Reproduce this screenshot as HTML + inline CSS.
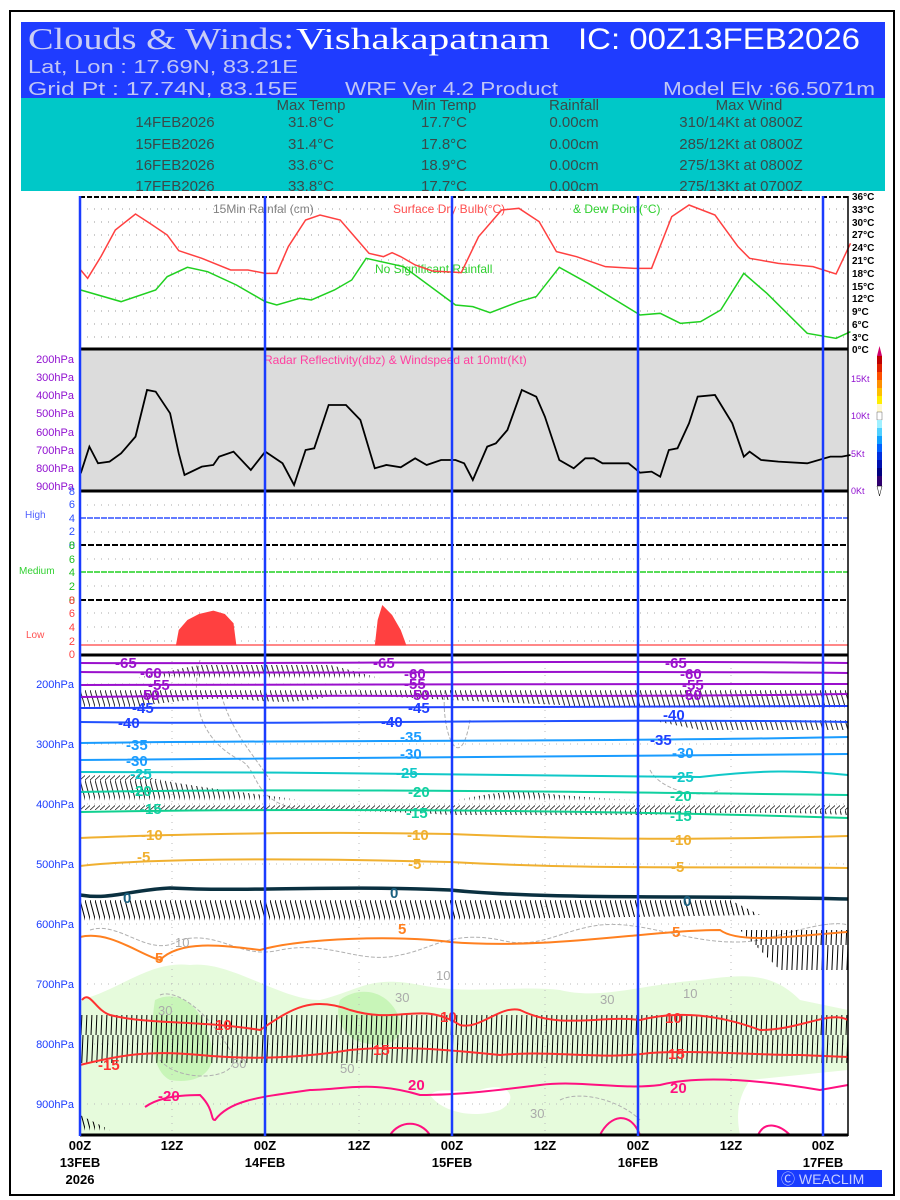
<!DOCTYPE html>
<html><head><meta charset="utf-8"><style>
html,body{margin:0;padding:0;background:#fff;}
svg{display:block;}
text{font-family:"Liberation Sans",sans-serif;}
</style></head><body>
<svg width="900" height="1200" viewBox="0 0 900 1200" xmlns="http://www.w3.org/2000/svg">
<defs>
<pattern id="pA" width="5" height="30" patternUnits="userSpaceOnUse"><line x1="0" y1="0" x2="9" y2="30" stroke="#000" stroke-width="1"/></pattern>
<pattern id="pB" width="5" height="30" patternUnits="userSpaceOnUse"><line x1="0" y1="0" x2="8" y2="30" stroke="#000" stroke-width="1"/><line x1="0" y1="30" x2="9" y2="22" stroke="#000" stroke-width="0.8"/></pattern>
<pattern id="pC" width="5" height="30" patternUnits="userSpaceOnUse"><line x1="0" y1="0" x2="8" y2="30" stroke="#000" stroke-width="1"/></pattern>
<pattern id="pD" width="5" height="45" patternUnits="userSpaceOnUse"><line x1="3" y1="0" x2="1" y2="45" stroke="#000" stroke-width="1"/></pattern>
</defs>
<rect x="0" y="0" width="900" height="1200" fill="#fff"/>
<rect x="10" y="11" width="884" height="1184" fill="none" stroke="#000" stroke-width="2"/>
<!-- header -->
<rect x="21" y="22" width="864" height="76" fill="#1f3cff"/>
<text x="28" y="49" font-size="31" fill="#c9cdf5" textLength="266" lengthAdjust="spacingAndGlyphs" style="font-family:'Liberation Serif',serif">Clouds &amp; Winds:</text>
<text x="296" y="49" font-size="31" fill="#fff" textLength="254" lengthAdjust="spacingAndGlyphs" style="font-family:'Liberation Serif',serif">Vishakapatnam</text>
<text x="578" y="49" font-size="30" fill="#fff" textLength="282" lengthAdjust="spacingAndGlyphs">IC: 00Z13FEB2026</text>
<text x="28" y="73" font-size="18" fill="#c0c6f5" textLength="270" lengthAdjust="spacingAndGlyphs">Lat, Lon : 17.69N, 83.21E</text>
<text x="28" y="95" font-size="18" fill="#c0c6f5" textLength="270" lengthAdjust="spacingAndGlyphs">Grid Pt  : 17.74N, 83.15E</text>
<text x="345" y="95" font-size="18" fill="#c0c6f5" textLength="213" lengthAdjust="spacingAndGlyphs">WRF Ver 4.2 Product</text>
<text x="663" y="95" font-size="18" fill="#c0c6f5" textLength="212" lengthAdjust="spacingAndGlyphs">Model Elv :66.5071m</text>
<rect x="21" y="98" width="864" height="93" fill="#00c8c8"/>
<g font-size="15" fill="#3a4a4a" text-anchor="middle">
<text x="311" y="110">Max Temp</text><text x="444" y="110">Min Temp</text><text x="574" y="110">Rainfall</text><text x="749" y="110">Max Wind</text>
<text x="175" y="127">14FEB2026</text><text x="311" y="127">31.8°C</text><text x="444" y="127">17.7°C</text><text x="574" y="127">0.00cm</text><text x="741" y="127">310/14Kt at 0800Z</text>
<text x="175" y="149">15FEB2026</text><text x="311" y="149">31.4°C</text><text x="444" y="149">17.8°C</text><text x="574" y="149">0.00cm</text><text x="741" y="149">285/12Kt at 0800Z</text>
<text x="175" y="170">16FEB2026</text><text x="311" y="170">33.6°C</text><text x="444" y="170">18.9°C</text><text x="574" y="170">0.00cm</text><text x="741" y="170">275/13Kt at 0800Z</text>
<text x="175" y="191">17FEB2026</text><text x="311" y="191">33.8°C</text><text x="444" y="191">17.7°C</text><text x="574" y="191">0.00cm</text><text x="741" y="191">275/13Kt at 0700Z</text>
</g>
<rect x="21" y="191" width="864" height="3" fill="#fff"/>

<!-- temp panel -->
<line x1="80" y1="197" x2="848" y2="197" stroke="#000" stroke-width="2" stroke-dasharray="5,2"/>
<g stroke="#999" stroke-width="1" stroke-dasharray="1,6">
<line x1="80" y1="209" x2="848" y2="209"/><line x1="80" y1="222" x2="848" y2="222"/><line x1="80" y1="235" x2="848" y2="235"/><line x1="80" y1="247" x2="848" y2="247"/><line x1="80" y1="260" x2="848" y2="260"/><line x1="80" y1="273" x2="848" y2="273"/><line x1="80" y1="286" x2="848" y2="286"/><line x1="80" y1="298" x2="848" y2="298"/><line x1="80" y1="311" x2="848" y2="311"/><line x1="80" y1="324" x2="848" y2="324"/><line x1="80" y1="337" x2="848" y2="337"/>
</g>
<g font-size="10" fill="#000" font-weight="bold">
<text x="852" y="200">36°C</text><text x="852" y="213">33°C</text><text x="852" y="226">30°C</text><text x="852" y="238">27°C</text><text x="852" y="251">24°C</text><text x="852" y="264">21°C</text><text x="852" y="277">18°C</text><text x="852" y="290">15°C</text><text x="852" y="302">12°C</text><text x="852" y="315">9°C</text><text x="852" y="328">6°C</text><text x="852" y="341">3°C</text><text x="852" y="353">0°C</text>
</g>
<text x="213" y="213" font-size="12" fill="#808080">15Min Rainfal (cm)</text>
<text x="393" y="213" font-size="12" fill="#ff5050">Surface Dry Bulb(°C)</text>
<text x="573" y="213" font-size="12" fill="#30d030">&amp; Dew Point(°C)</text>
<text x="375" y="273" font-size="12" fill="#30d030">No Significant Rainfall</text>
<g transform="translate(0,190) scale(0.5766,0.3333)" fill="none">
<polyline vector-effect="non-scaling-stroke" stroke-width="1.5" stroke="#ff4040" points="140,240 152,265 175,200 200,120 235,72 260,100 290,135 310,182 350,205 400,240 430,240 460,250 480,250 500,170 530,90 555,75 590,90 620,150 640,190 665,200 680,188 695,200 720,225 750,243 800,248 830,140 870,60 900,55 935,95 965,185 1000,200 1050,230 1100,235 1130,235 1165,80 1195,45 1240,75 1280,170 1300,205 1350,220 1410,230 1450,252 1475,160"/>
<polyline vector-effect="non-scaling-stroke" stroke-width="1.5" stroke="#20d020" points="140,300 210,335 270,300 290,260 325,232 360,245 410,285 460,335 480,345 520,325 540,330 580,300 610,270 635,205 700,230 790,345 820,350 850,368 900,335 930,320 970,232 1020,280 1110,375 1145,370 1180,400 1215,395 1250,360 1290,250 1330,310 1400,430 1450,445 1475,425"/>
</g>

<!-- radar panel -->
<rect x="80" y="349" width="768" height="142" fill="#dcdcdc"/>
<line x1="80" y1="349" x2="848" y2="349" stroke="#000" stroke-width="3"/>
<line x1="80" y1="491" x2="848" y2="491" stroke="#000" stroke-width="3"/>
<text x="264" y="364" font-size="12" fill="#ff40a0">Radar Reflectivity(dbz) &amp; Windspeed at 10mtr(Kt)</text>
<g font-size="11" fill="#9010d0" text-anchor="end">
<text x="74" y="363">200hPa</text><text x="74" y="381">300hPa</text><text x="74" y="399">400hPa</text><text x="74" y="417">500hPa</text><text x="74" y="436">600hPa</text><text x="74" y="454">700hPa</text><text x="74" y="472">800hPa</text><text x="74" y="490">900hPa</text>
</g>
<g font-size="9" fill="#9010d0">
<text x="851" y="382">15Kt</text><text x="851" y="419">10Kt</text><text x="851" y="457">5Kt</text><text x="851" y="494">0Kt</text>
</g>
<g transform="translate(0,190) scale(0.5766,0.3333)" fill="none">
<polyline vector-effect="non-scaling-stroke" stroke="#000" stroke-width="1.8" points="140,850 155,770 170,820 190,815 210,790 235,740 255,600 270,605 295,670 310,790 320,855 350,830 370,825 380,800 405,785 435,840 460,785 490,820 510,885 530,780 545,775 570,645 600,645 625,690 650,835 670,825 695,832 720,805 740,825 765,810 790,810 805,820 820,870 845,770 860,760 880,720 905,600 930,620 945,680 970,810 995,835 1015,805 1030,805 1045,820 1090,820 1110,848 1130,845 1145,860 1160,780 1175,775 1195,700 1210,620 1240,615 1270,700 1290,800 1300,785 1320,810 1350,815 1400,820 1440,800 1460,800 1475,795"/>
</g>
<!-- colorbar -->
<g>
<polygon points="877,356 879.5,346 882,356" fill="#d0006a"/>
<rect x="877" y="356" width="5" height="8" fill="#c00000"/>
<rect x="877" y="364" width="5" height="8" fill="#e02000"/>
<rect x="877" y="372" width="5" height="8" fill="#ff5000"/>
<rect x="877" y="380" width="5" height="8" fill="#ff9000"/>
<rect x="877" y="388" width="5" height="8" fill="#ffc000"/>
<rect x="877" y="396" width="5" height="8" fill="#ffee00"/>
<rect x="877" y="404" width="5" height="8" fill="#fff8d0"/>
<rect x="877" y="412" width="5" height="8" fill="#ffffff" stroke="#000" stroke-width="0.3"/>
<rect x="877" y="420" width="5" height="8" fill="#a0f0ff"/>
<rect x="877" y="428" width="5" height="8" fill="#50d0ff"/>
<rect x="877" y="436" width="5" height="8" fill="#10a0ff"/>
<rect x="877" y="444" width="5" height="8" fill="#0060ff"/>
<rect x="877" y="452" width="5" height="8" fill="#0030e0"/>
<rect x="877" y="460" width="5" height="8" fill="#0010b0"/>
<rect x="877" y="468" width="5" height="8" fill="#000080"/>
<rect x="877" y="476" width="5" height="10" fill="#300070"/>
<polygon points="877,486 879.5,496 882,486" fill="#fff" stroke="#000" stroke-width="0.5"/>
</g>

<!-- cloud panels -->
<g stroke="#aaa" stroke-width="1" stroke-dasharray="1,6">
<line x1="80" y1="505" x2="848" y2="505"/><line x1="80" y1="532" x2="848" y2="532"/>
<line x1="80" y1="559" x2="848" y2="559"/><line x1="80" y1="586" x2="848" y2="586"/>
<line x1="80" y1="613" x2="848" y2="613"/><line x1="80" y1="627" x2="848" y2="627"/><line x1="80" y1="641" x2="848" y2="641"/>
</g>
<line x1="80" y1="518" x2="848" y2="518" stroke="#3050ff" stroke-width="1.5" stroke-dasharray="6,1"/>
<line x1="80" y1="545" x2="848" y2="545" stroke="#000" stroke-width="2" stroke-dasharray="6,2"/>
<line x1="80" y1="572" x2="848" y2="572" stroke="#20d020" stroke-width="1.5" stroke-dasharray="6,1"/>
<line x1="80" y1="600" x2="848" y2="600" stroke="#000" stroke-width="2" stroke-dasharray="6,2"/>
<line x1="80" y1="645" x2="848" y2="645" stroke="#ff4040" stroke-width="1.2"/>
<g transform="translate(0,190) scale(0.5766,0.3333)" fill="#ff4040">
<path d="M305,1367 L310,1320 L325,1290 L345,1272 L370,1262 L390,1272 L405,1300 L410,1367 Z"/>
<path d="M650,1367 L655,1290 L663,1245 L680,1275 L695,1320 L705,1367 Z"/>
</g>
<g font-size="11" text-anchor="end">
<text x="75" y="495" fill="#3050ff">8</text><text x="75" y="508" fill="#3050ff">6</text><text x="75" y="522" fill="#3050ff">4</text><text x="75" y="535" fill="#3050ff">2</text><text x="75" y="549" fill="#3050ff">0</text>
<text x="75" y="549" fill="#20c020">8</text><text x="75" y="563" fill="#20c020">6</text><text x="75" y="576" fill="#20c020">4</text><text x="75" y="590" fill="#20c020">2</text><text x="75" y="604" fill="#20c020">0</text>
<text x="75" y="604" fill="#ff4040">8</text><text x="75" y="617" fill="#ff4040">6</text><text x="75" y="631" fill="#ff4040">4</text><text x="75" y="645" fill="#ff4040">2</text><text x="75" y="658" fill="#ff4040">0</text>
</g>
<text x="25" y="518" font-size="10" fill="#5060ff">High</text>
<text x="19" y="574" font-size="10" fill="#30d030">Medium</text>
<text x="26" y="638" font-size="10" fill="#ff5050">Low</text>

<!-- bottom panel -->
<path d="M80,1135 L80,1000 C120,990 150,960 190,965 C230,960 280,1000 320,1000 C360,990 370,975 420,985 C470,995 520,985 560,990 C600,1000 640,985 700,980 C740,975 770,970 800,1000 L848,1010 L848,1135 Z" fill="#e6fbdc"/>
<path d="M155,1000 C175,990 200,1000 210,1040 C220,1070 200,1085 170,1080 C150,1070 150,1030 155,1000Z" fill="#c8f5b8"/>
<path d="M340,1000 C360,985 390,990 400,1020 C405,1045 380,1050 355,1040 C340,1030 335,1015 340,1000Z" fill="#c8f5b8"/>
<path d="M430,1095 C440,1110 470,1120 500,1110 C520,1100 510,1080 480,1090 C460,1095 440,1085 430,1095Z" fill="#fff"/>
<path d="M750,1080 L848,1070 L848,1135 L740,1135 C735,1110 740,1095 750,1080Z" fill="#fff"/>
<g fill="none" stroke="#b0b0b0" stroke-width="1" stroke-dasharray="4,2">
<path d="M200,660 C190,700 200,740 240,760 C260,770 250,800 300,810"/>
<path d="M220,690 C230,730 250,750 270,780"/>
<path d="M445,690 C440,730 460,780 470,720"/>
<path d="M650,770 C660,790 700,800 720,790"/>
<path d="M90,930 C120,920 150,960 180,940 C220,930 240,960 280,950 C330,940 360,965 400,955 C430,950 450,930 500,940 C540,950 560,930 600,925 C650,920 700,950 760,940 C800,930 830,920 848,925"/>
<path d="M160,995 C170,990 200,1000 230,1050 C250,1080 180,1085 160,1060"/>
<path d="M560,1100 C580,1090 620,1100 640,1120"/>
</g>
<g stroke="#bbb" stroke-width="1" stroke-dasharray="1,6">
<line x1="80" y1="684" x2="848" y2="684"/><line x1="80" y1="744" x2="848" y2="744"/><line x1="80" y1="804" x2="848" y2="804"/><line x1="80" y1="864" x2="848" y2="864"/><line x1="80" y1="924" x2="848" y2="924"/><line x1="80" y1="984" x2="848" y2="984"/><line x1="80" y1="1044" x2="848" y2="1044"/><line x1="80" y1="1104" x2="848" y2="1104"/>
<line x1="172" y1="654" x2="172" y2="1135"/><line x1="359" y1="654" x2="359" y2="1135"/><line x1="545" y1="654" x2="545" y2="1135"/><line x1="731" y1="654" x2="731" y2="1135"/>
</g>
<!-- barbs -->
<path d="M80,690 C130,680 170,670 200,665 L330,665 C360,672 380,680 420,685 L848,690 L848,730 L700,730 C650,720 600,710 560,705 L450,700 L340,694 C320,698 300,705 250,700 C200,695 150,705 80,715 Z" fill="url(#pA)" opacity="0.85"/>
<path d="M80,772 L130,772 C170,785 230,790 300,800 L450,802 C500,790 520,790 560,795 C620,800 700,805 848,800 L848,815 C780,812 720,812 650,815 L450,815 C380,810 300,810 80,810 Z" fill="url(#pB)" opacity="0.85"/>
<path d="M80,893 L720,895 L760,915 L80,925 Z" fill="url(#pC)"/>
<path d="M740,930 L848,930 L848,970 L780,970 Z" fill="url(#pD)"/>
<rect x="80" y="1015" width="768" height="48" fill="url(#pD)"/>
<path d="M80,1115 L120,1135 L80,1135Z" fill="url(#pC)"/>
<!-- temperature contours -->
<g fill="none" stroke-width="2">
<path d="M80,663 C300,664 600,660 848,663" stroke="#9a10cc"/>
<path d="M80,672 C300,674 600,670 848,673" stroke="#9a10cc"/>
<path d="M80,685 C300,686 600,683 848,684" stroke="#9a10cc"/>
<path d="M80,697 C300,694 600,698 848,694" stroke="#9a10cc"/>
<path d="M80,708 C300,706 600,708 848,706" stroke="#2040ff"/>
<path d="M80,722 C300,725 600,718 848,722" stroke="#2050ff"/>
<path d="M80,743 C300,740 600,742 848,737" stroke="#1a9cff"/>
<path d="M80,760 C300,757 600,757 848,754" stroke="#1a9cff"/>
<path d="M80,772 C300,772 600,775 700,777 C760,770 800,770 848,775" stroke="#10c8c8"/>
<path d="M80,792 C300,788 600,792 848,795" stroke="#10d0a0"/>
<path d="M80,812 C300,808 600,810 848,818" stroke="#10d090"/>
<path d="M80,838 C150,835 300,831 450,834 C600,840 700,840 848,836" stroke="#f0b030"/>
<path d="M80,866 C150,858 300,858 450,862 C600,870 700,866 848,868" stroke="#f0b030"/>
<path d="M80,895 C110,900 130,890 170,888 C250,892 330,885 450,890 C550,900 700,895 848,899" stroke="#0a3040" stroke-width="3.5"/>
<path d="M80,937 C110,930 140,955 160,960 C180,940 220,945 260,950 C300,938 400,935 450,942 C550,950 650,930 720,930 C740,945 800,935 848,932" stroke="#ff8020"/>
<path d="M82,1000 C90,990 95,1010 110,1015 C150,1025 200,1020 260,1030 C290,1010 310,995 350,1010 C400,1025 420,1000 460,1025 C480,1030 500,1005 520,1010 C560,1030 600,1015 640,1020 C680,1010 720,1015 760,1030 C800,1030 830,1010 848,1020" stroke="#ff3030"/>
<path d="M80,1065 C120,1055 150,1050 200,1055 C250,1060 300,1058 350,1050 C400,1045 450,1050 500,1055 C550,1050 600,1060 650,1053 C700,1050 750,1055 800,1055 L848,1057" stroke="#ff3030"/>
<path d="M145,1107 C155,1100 170,1095 200,1095 C215,1110 210,1120 215,1120 C230,1100 260,1097 310,1090 C340,1090 370,1080 420,1095 C460,1095 500,1090 540,1085 C580,1080 620,1090 660,1085 C700,1075 760,1080 820,1090 L848,1085" stroke="#ff1080"/>
<path d="M390,1135 C400,1120 420,1120 430,1135" stroke="#ff1080"/>
<path d="M600,1135 C610,1115 630,1110 640,1135" stroke="#ff1080"/>
<path d="M758,1135 C765,1120 780,1125 790,1135" stroke="#ff1080"/>
</g>
<g font-size="15" font-weight="bold">
<g fill="#9a10cc"><text x="115" y="668">-65</text><text x="140" y="678">-60</text><text x="148" y="690">-55</text><text x="138" y="700">-50</text>
<text x="373" y="668">-65</text><text x="404" y="679">-60</text><text x="404" y="689">-55</text><text x="408" y="700">-50</text>
<text x="665" y="668">-65</text><text x="680" y="679">-60</text><text x="682" y="690">-55</text><text x="680" y="700">-50</text></g>
<g fill="#2040ff"><text x="132" y="713">-45</text><text x="118" y="728">-40</text><text x="381" y="727">-40</text><text x="408" y="713">-45</text><text x="650" y="745">-35</text><text x="663" y="720">-40</text></g>
<g fill="#1a9cff"><text x="126" y="750">-35</text><text x="126" y="766">-30</text><text x="400" y="742">-35</text><text x="400" y="759">-30</text><text x="672" y="758">-30</text></g>
<g fill="#10c8c8"><text x="130" y="779">-25</text><text x="396" y="778">-25</text><text x="672" y="782">-25</text></g>
<g fill="#10d0a0"><text x="130" y="796">-20</text><text x="140" y="814">-15</text><text x="408" y="797">-20</text><text x="406" y="818">-15</text><text x="670" y="801">-20</text><text x="670" y="821">-15</text></g>
<g fill="#f0b030"><text x="141" y="840">-10</text><text x="137" y="862">-5</text><text x="407" y="840">-10</text><text x="408" y="869">-5</text><text x="670" y="845">-10</text><text x="671" y="872">-5</text></g>
<g fill="#1a6080"><text x="123" y="903">0</text><text x="390" y="898">0</text><text x="683" y="906">0</text></g>
<g fill="#ff8020"><text x="155" y="963">5</text><text x="398" y="934">5</text><text x="672" y="937">5</text></g>
<g fill="#ff3030"><text x="215" y="1030">10</text><text x="440" y="1022">10</text><text x="665" y="1023">10</text><text x="98" y="1070">-15</text><text x="373" y="1055">15</text><text x="668" y="1059">15</text></g>
<g fill="#ff1080"><text x="158" y="1101">-20</text><text x="408" y="1090">20</text><text x="670" y="1093">20</text></g>
</g>
<g font-size="13" fill="#aaa"><text x="175" y="947">10</text><text x="158" y="1015">30</text><text x="232" y="1068">50</text><text x="340" y="1073">50</text><text x="395" y="1002">30</text><text x="436" y="980">10</text><text x="600" y="1004">30</text><text x="683" y="998">10</text><text x="530" y="1118">30</text></g>
<g font-size="11" fill="#1a3cff" text-anchor="end">
<text x="74" y="688">200hPa</text><text x="74" y="748">300hPa</text><text x="74" y="808">400hPa</text><text x="74" y="868">500hPa</text><text x="74" y="928">600hPa</text><text x="74" y="988">700hPa</text><text x="74" y="1048">800hPa</text><text x="74" y="1108">900hPa</text>
</g>
<line x1="80" y1="655" x2="848" y2="655" stroke="#000" stroke-width="3"/>
<line x1="80" y1="1135" x2="848" y2="1135" stroke="#000" stroke-width="3"/>
<line x1="848" y1="196" x2="848" y2="1136" stroke="#000" stroke-width="1.5"/>
<!-- blue day lines -->
<g stroke="#1a3cff" stroke-width="2.5">
<line x1="80" y1="196" x2="80" y2="1136"/><line x1="265" y1="196" x2="265" y2="1136"/><line x1="452" y1="196" x2="452" y2="1136"/><line x1="638" y1="196" x2="638" y2="1136"/><line x1="823" y1="196" x2="823" y2="1136"/>
</g>
<!-- x axis -->
<g font-size="13" font-weight="bold" fill="#000" text-anchor="middle">
<text x="80" y="1150">00Z</text><text x="80" y="1167">13FEB</text><text x="80" y="1184">2026</text>
<text x="172" y="1150">12Z</text>
<text x="265" y="1150">00Z</text><text x="265" y="1167">14FEB</text>
<text x="359" y="1150">12Z</text>
<text x="452" y="1150">00Z</text><text x="452" y="1167">15FEB</text>
<text x="545" y="1150">12Z</text>
<text x="638" y="1150">00Z</text><text x="638" y="1167">16FEB</text>
<text x="731" y="1150">12Z</text>
<text x="823" y="1150">00Z</text><text x="823" y="1167">17FEB</text>
</g>
<rect x="777" y="1170" width="105" height="17" fill="#1a3cff"/>
<text x="781" y="1184" font-size="14" fill="#c8d0ff">Ⓒ WEACLIM</text>
</svg>
</body></html>
